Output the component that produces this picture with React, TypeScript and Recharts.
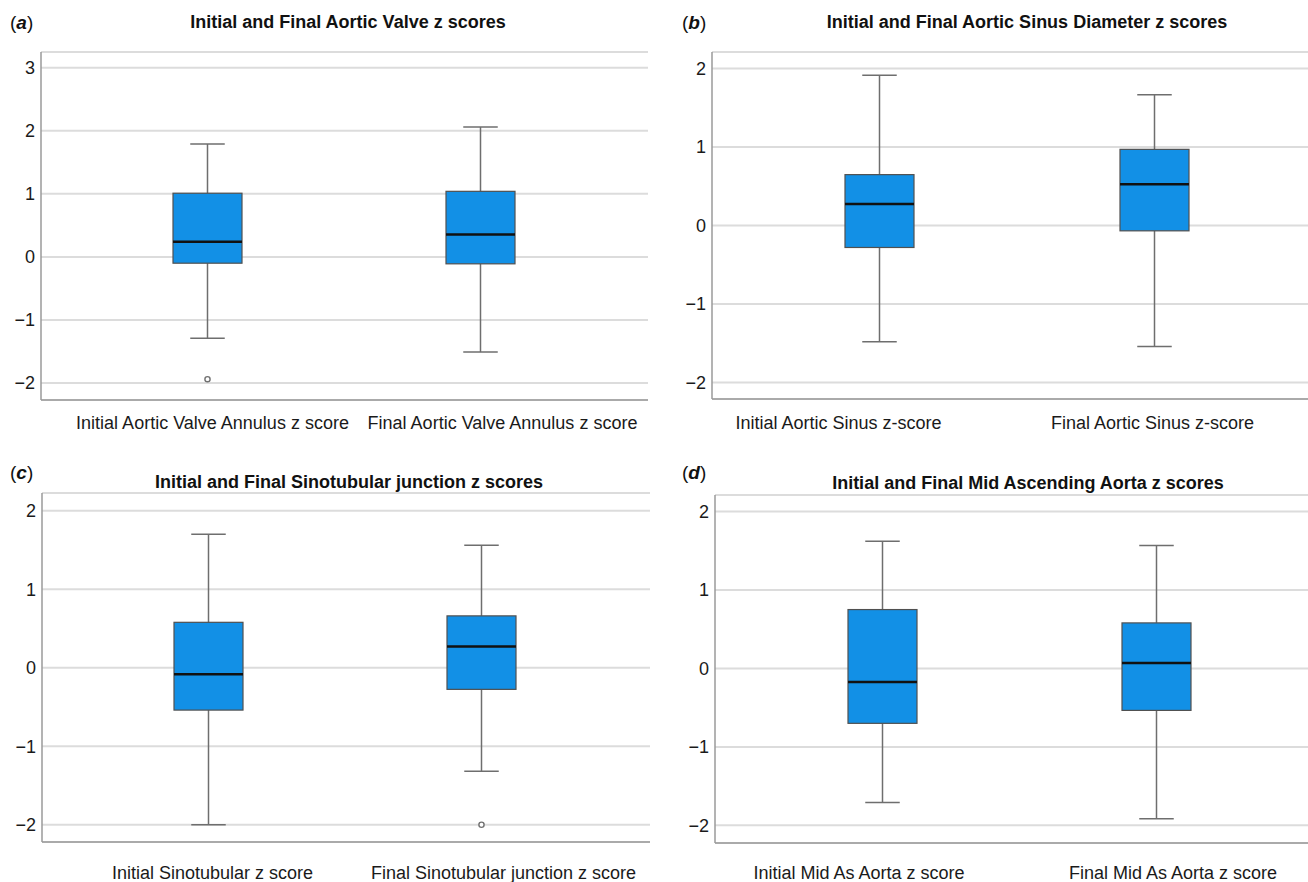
import React from 'react';
import { ComposedChart, Bar, Scatter, XAxis, YAxis, CartesianGrid } from 'recharts';

const FONT = '"Liberation Sans", Arial, Helvetica, sans-serif';

// ---- Panel (a) ----
const aTitle = 'Initial and Final Aortic Valve z scores';
const aCategories = ['Initial Aortic Valve Annulus z score', 'Final Aortic Valve Annulus z score'];
const aMin = [-1.29, -1.51];
const aQ1 = [-0.1, -0.11];
const aMedian = [0.24, 0.355];
const aQ3 = [1.01, 1.04];
const aMax = [1.79, 2.06];
const aOutlier: (number | null)[] = [-1.94, null];
const aTicks = [-2, -1, 0, 1, 2, 3];

// ---- Panel (b) ----
const bTitle = 'Initial and Final Aortic Sinus Diameter z scores';
const bCategories = ['Initial Aortic Sinus z-score', 'Final Aortic Sinus z-score'];
const bMin = [-1.48, -1.54];
const bQ1 = [-0.28, -0.068];
const bMedian = [0.275, 0.525];
const bQ3 = [0.648, 0.97];
const bMax = [1.915, 1.665];
const bOutlier: (number | null)[] = [null, null];
const bTicks = [-2, -1, 0, 1, 2];

// ---- Panel (c) ----
const cTitle = 'Initial and Final Sinotubular junction z scores';
const cCategories = ['Initial Sinotubular z score', 'Final Sinotubular junction z score'];
const cMin = [-2.0, -1.32];
const cQ1 = [-0.54, -0.276];
const cMedian = [-0.085, 0.27];
const cQ3 = [0.578, 0.66];
const cMax = [1.7, 1.56];
const cOutlier: (number | null)[] = [null, -2.0];
const cTicks = [-2, -1, 0, 1, 2];

// ---- Panel (d) ----
const dTitle = 'Initial and Final Mid Ascending Aorta z scores';
const dCategories = ['Initial Mid As Aorta z score', 'Final Mid As Aorta z score'];
const dMin = [-1.71, -1.915];
const dQ1 = [-0.7, -0.535];
const dMedian = [-0.174, 0.068];
const dQ3 = [0.75, 0.58];
const dMax = [1.62, 1.567];
const dOutlier: (number | null)[] = [null, null];
const dTicks = [-2, -1, 0, 1, 2];

const build = (
  cats: string[], mn: number[], q1: number[], med: number[], q3: number[], mx: number[], out: (number | null)[]
) =>
  cats.map((name, i) => ({
    name,
    box: [q1[i], q3[i]],
    min: mn[i],
    q1: q1[i],
    median: med[i],
    q3: q3[i],
    max: mx[i],
    outlier: out[i],
  }));

const BoxShape = (props: any) => {
  const { x, y, width, height, payload } = props;
  if (!payload || !isFinite(y) || !isFinite(height)) return null;
  const { min, q1, median, q3, max } = payload;
  const ppu = height / (q3 - q1);
  const py = (v: number) => y + (q3 - v) * ppu;
  const cx = x + width / 2;
  const cap = width / 4;
  const wc = '#6e6e6e';
  return (
    <g>
      <line x1={cx} x2={cx} y1={py(max)} y2={y} stroke={wc} strokeWidth={1.5} />
      <line x1={cx} x2={cx} y1={y + height} y2={py(min)} stroke={wc} strokeWidth={1.5} />
      <line x1={cx - cap} x2={cx + cap} y1={py(max)} y2={py(max)} stroke={wc} strokeWidth={1.5} />
      <line x1={cx - cap} x2={cx + cap} y1={py(min)} y2={py(min)} stroke={wc} strokeWidth={1.5} />
      <rect x={x} y={y} width={width} height={height} fill="#1290E6" stroke="#505050" strokeWidth={1.2} />
      <line x1={x} x2={x + width} y1={py(median)} y2={py(median)} stroke="#111" strokeWidth={2.5} />
    </g>
  );
};

const OutlierShape = (props: any) => {
  const { cx, cy, payload } = props;
  if (!payload || payload.outlier == null || !isFinite(cy) || !isFinite(cx)) return null;
  return <circle cx={cx} cy={cy} r={2.6} fill="#fff" stroke="#707070" strokeWidth={1.4} />;
};

const fmt = (v: number) => (v < 0 ? '\u2212' + Math.abs(v) : String(v));

type PanelProps = {
  letter: string;
  title: string;
  data: any[];
  ticks: number[];
  domain: [number, number];
  left: number;
  top: number;
  margin: { top: number; right: number; left: number; bottom: number };
  yWidth: number;
  xHeight: number;
  padding: { left: number; right: number };
  labelDy: number;
  labelDx: number[];
  titleX: number;
  titleY: number;
  letterX: number;
  letterY: number;
};

const Panel = (p: PanelProps) => {
  const CatTick = (tp: any) => {
    const { x, y, payload, index } = tp;
    return (
      <text
        x={x + (p.labelDx[index] || 0)}
        y={y + p.labelDy}
        dy="0.355em"
        textAnchor="middle"
        fontSize={18}
        fontFamily={FONT}
        fill="#1a1a1a"
      >
        {payload.value}
      </text>
    );
  };
  return (
    <div style={{ position: 'absolute', left: p.left, top: p.top, width: 654, height: 441 }}>
      <ComposedChart width={654} height={441} data={p.data} margin={p.margin}>
        <CartesianGrid vertical={false} stroke="#dcdcdc" strokeWidth={2} />
        <XAxis
          dataKey="name"
          type="category"
          padding={p.padding}
          axisLine={{ stroke: '#9a9a9a', strokeWidth: 1.5 }}
          tickLine={false}
          tickSize={0}
          tickMargin={0}
          height={p.xHeight}
          tick={<CatTick />}
          interval={0}
        />
        <YAxis
          type="number"
          domain={p.domain}
          ticks={p.ticks}
          allowDataOverflow
          width={p.yWidth}
          axisLine={{ stroke: '#9a9a9a', strokeWidth: 1.5 }}
          tickLine={false}
          tickSize={0}
          tickMargin={6}
          tickFormatter={fmt}
          tick={{ fontSize: 18, fontFamily: FONT, fill: '#1a1a1a' }}
        />
        <Bar dataKey="box" barSize={69} shape={<BoxShape />} isAnimationActive={false} />
        <Scatter dataKey="outlier" shape={<OutlierShape />} isAnimationActive={false} />
      </ComposedChart>
      <div
        style={{
          position: 'absolute',
          left: p.titleX,
          top: p.titleY,
          transform: 'translate(-50%, -50%)',
          fontFamily: FONT,
          fontWeight: 'bold',
          fontSize: 18,
          whiteSpace: 'nowrap',
          color: '#111',
        }}
      >
        {p.title}
      </div>
      <div
        style={{
          position: 'absolute',
          left: p.letterX,
          top: p.letterY,
          transform: 'translate(0, -50%)',
          fontFamily: FONT,
          fontSize: 19,
          whiteSpace: 'nowrap',
          color: '#111',
        }}
      >
        (<b><i>{p.letter}</i></b>)
      </div>
    </div>
  );
};

export default function App() {
  return (
    <div style={{ position: 'absolute', left: 0, top: 0, width: 1308, height: 882, background: '#fff', overflow: 'hidden' }}>
      <Panel
        letter="a"
        title={aTitle}
        data={build(aCategories, aMin, aQ1, aMedian, aQ3, aMax, aOutlier)}
        ticks={aTicks}
        domain={[-2.27, 3.25]}
        left={0}
        top={0}
        margin={{ top: 52, right: 6, left: 6, bottom: 0 }}
        yWidth={35}
        xHeight={41}
        padding={{ left: 30, right: 31 }}
        labelDy={23}
        labelDx={[5, 22]}
        titleX={348}
        titleY={22}
        letterX={10}
        letterY={23}
      />
      <Panel
        letter="b"
        title={bTitle}
        data={build(bCategories, bMin, bQ1, bMedian, bQ3, bMax, bOutlier)}
        ticks={bTicks}
        domain={[-2.21, 2.21]}
        left={654}
        top={0}
        margin={{ top: 52, right: 0, left: 23, bottom: 0 }}
        yWidth={35}
        xHeight={42}
        padding={{ left: 30, right: 16 }}
        labelDy={24}
        labelDx={[-41, -2]}
        titleX={373}
        titleY={22}
        letterX={28}
        letterY={23}
      />
      <Panel
        letter="c"
        title={cTitle}
        data={build(cCategories, cMin, cQ1, cMedian, cQ3, cMax, cOutlier)}
        ticks={cTicks}
        domain={[-2.22, 2.225]}
        left={0}
        top={441}
        margin={{ top: 52, right: 4, left: 7, bottom: 0 }}
        yWidth={35}
        xHeight={40}
        padding={{ left: 30, right: 32 }}
        labelDy={31}
        labelDx={[4, 22]}
        titleX={349}
        titleY={41}
        letterX={10}
        letterY={32}
      />
      <Panel
        letter="d"
        title={dTitle}
        data={build(dCategories, dMin, dQ1, dMedian, dQ3, dMax, dOutlier)}
        ticks={dTicks}
        domain={[-2.225, 2.21]}
        left={654}
        top={441}
        margin={{ top: 54, right: 0, left: 26, bottom: 0 }}
        yWidth={35}
        xHeight={39}
        padding={{ left: 30, right: 15 }}
        labelDy={30}
        labelDx={[-23, 17]}
        titleX={374}
        titleY={42}
        letterX={28}
        letterY={32}
      />
    </div>
  );
}
